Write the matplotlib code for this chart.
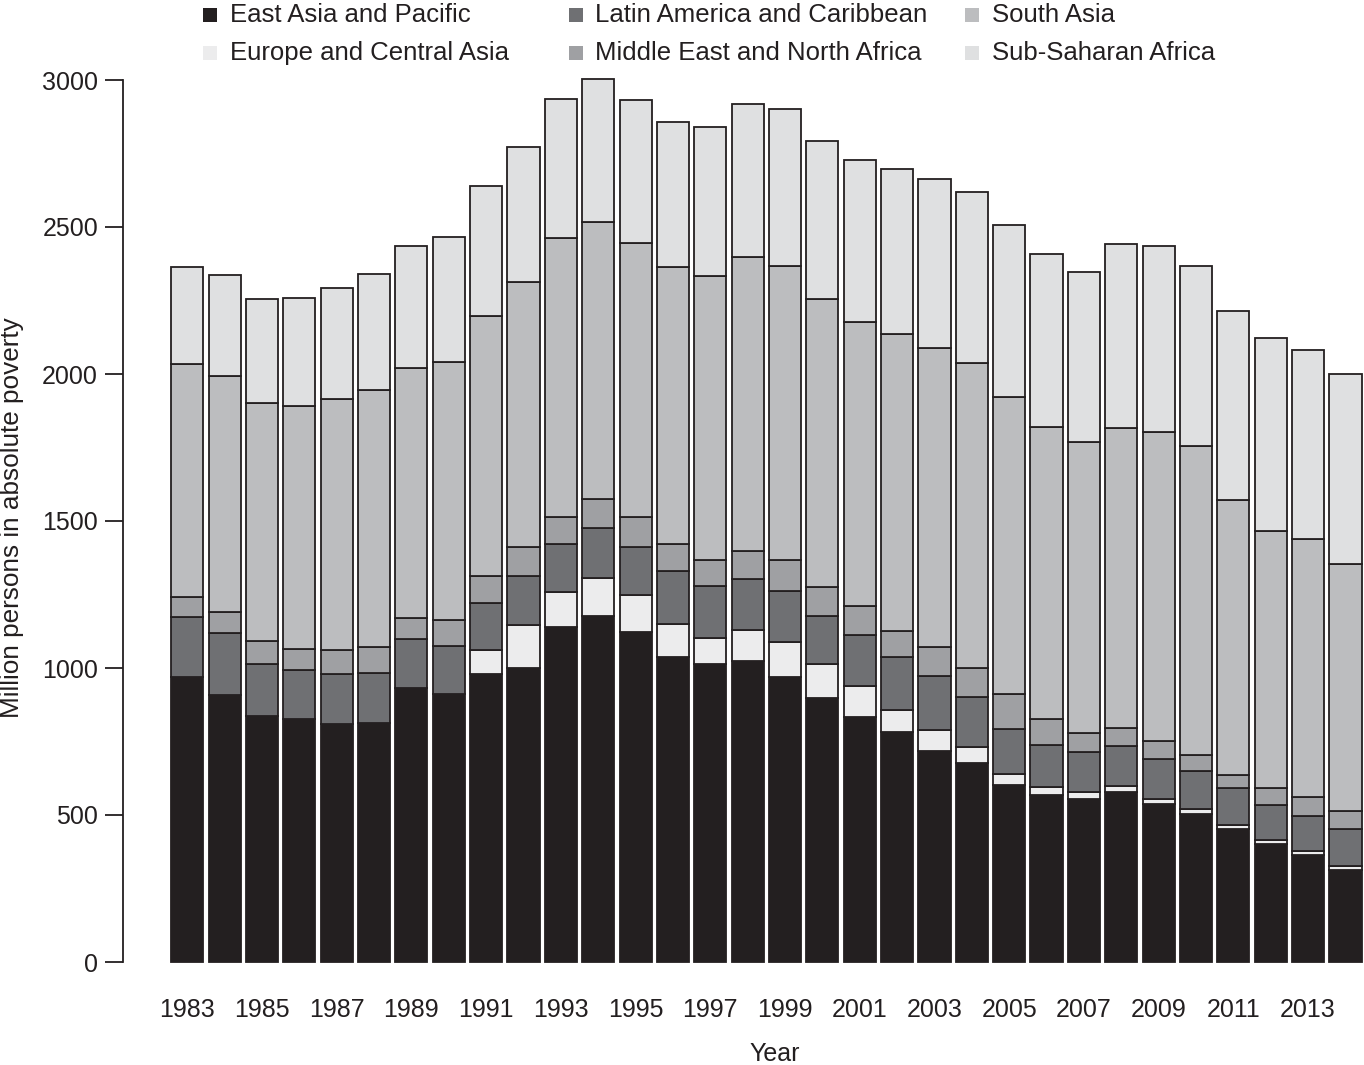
import matplotlib
matplotlib.use("Agg")
import matplotlib.pyplot as plt
import matplotlib.patches as mpatches
import numpy as np

plt.rcParams["font.family"] = ["Liberation Sans", "DejaVu Sans"]

years = list(range(1983, 2015))

# million persons per region
east_asia = [970, 909, 837, 825, 810, 813, 931, 912, 978, 1000, 1138, 1177, 1124, 1036, 1015, 1025,
             969, 899, 834, 781, 717, 676, 602, 567, 553, 577, 536, 504, 451, 400, 363, 314]
europe = [0, 0, 0, 0, 0, 0, 0, 0, 83, 145, 119, 128, 124, 115, 88, 103,
          118, 115, 105, 75, 72, 54, 36, 27, 24, 20, 19, 18, 16, 15, 14, 13]
latin_america = [204, 211, 178, 169, 171, 170, 166, 162, 160, 169, 165, 170, 164, 179, 175, 174,
                 174, 162, 172, 183, 184, 170, 155, 143, 136, 137, 135, 128, 125, 119, 119, 124]
middle_east = [67, 71, 77, 70, 80, 87, 72, 89, 92, 97, 92, 99, 102, 93, 89, 97,
               105, 98, 100, 88, 97, 100, 119, 90, 66, 62, 61, 54, 44, 58, 65, 64]
south_asia = [794, 803, 808, 827, 854, 876, 853, 879, 883, 902, 947, 942, 930, 942, 966, 1000,
              1002, 982, 967, 1010, 1018, 1036, 1010, 994, 989, 1022, 1053, 1052, 936, 875, 879, 838]
sub_saharan = [330, 344, 354, 369, 378, 394, 412, 425, 442, 459, 473, 486, 488, 492, 507, 518,
               532, 538, 551, 559, 575, 582, 584, 587, 579, 625, 632, 611, 643, 654, 643, 647]

regions = [
    ("East Asia and Pacific", east_asia, "#231f20"),
    ("Europe and Central Asia", europe, "#ececed"),
    ("Latin America and Caribbean", latin_america, "#6f7073"),
    ("Middle East and North Africa", middle_east, "#9fa0a3"),
    ("South Asia", south_asia, "#bcbdbf"),
    ("Sub-Saharan Africa", sub_saharan, "#dfe0e1"),
]

W, H = 1364, 1065
fig = plt.figure(figsize=(W / 100, H / 100), dpi=100)
ax = fig.add_axes([123 / W, 103 / H, 1240 / W, 882 / H])

x = np.arange(len(years))
bottom = np.zeros(len(years))
for name, vals, color in regions:
    vals = np.array(vals, dtype=float)
    ax.bar(x, vals, bottom=bottom, width=0.86, color=color,
           edgecolor="#231f20", linewidth=1.3, clip_on=False)
    bottom += vals

ax.set_xlim(-1.72, 31.47)
ax.set_ylim(0, 3000)
ax.set_yticks(range(0, 3001, 500))
ax.set_xticks(x[::2])
ax.set_xticklabels([str(y) for y in years[::2]])
for side in ("top", "right", "bottom"):
    ax.spines[side].set_visible(False)
ax.spines["left"].set_linewidth(1.3)
ax.spines["left"].set_color("#231f20")
ax.tick_params(axis="y", length=13, width=1.3, color="#231f20", labelcolor="#231f20",
               labelsize=18, pad=5)
ax.tick_params(axis="x", length=0, labelsize=18, labelcolor="#231f20", pad=26)

ax.set_xlabel("Year", fontsize=18, color="#231f20")
ax.xaxis.set_label_coords((775 - 123) / 1240, (962 - 1042) / 882)
ax.set_ylabel("Million persons in absolute poverty", fontsize=18.8, color="#231f20", va="center")
ax.yaxis.set_label_coords((12 - 123) / 1240, (962 - 518) / 882)

# legend laid out in three columns as in the original figure
cols = [(203, 230), (569, 595), (965, 992)]
rows = [22, 60]
for i, (name, vals, color) in enumerate(regions):
    (mx, tx), base = cols[i // 2], rows[i % 2]
    fig.patches.append(mpatches.Rectangle(
        (mx / W, 1 - base / H), 14 / W, 14 / H, transform=fig.transFigure,
        facecolor=color, edgecolor="none"))
    fig.text(tx / W, 1 - base / H, name, fontsize=18.5, color="#231f20",
             ha="left", va="baseline")

fig.savefig("out.png", dpi=100)
